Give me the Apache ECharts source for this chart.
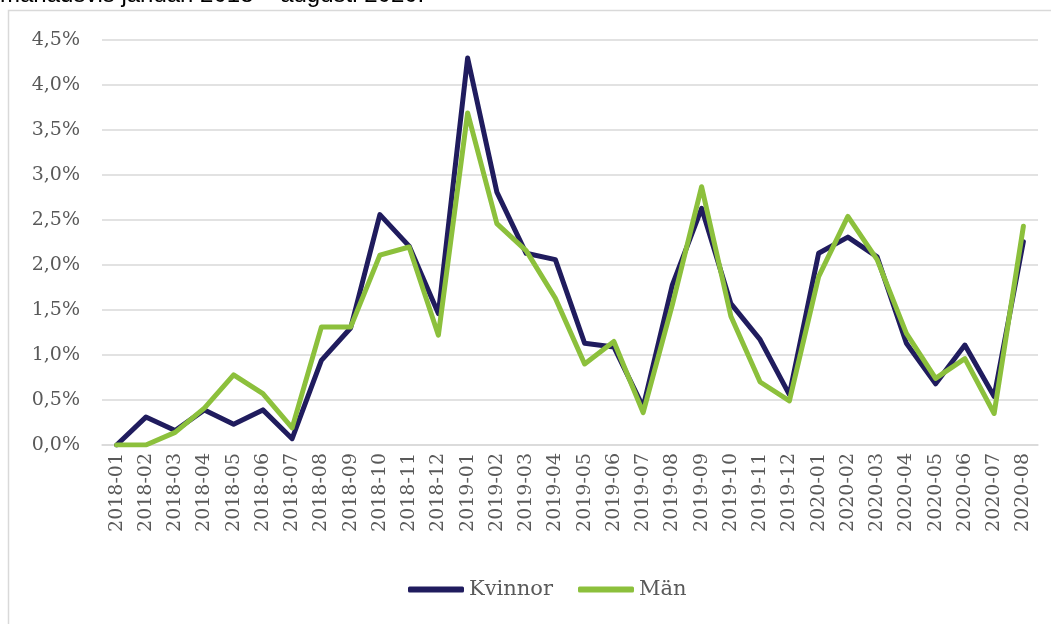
<!DOCTYPE html>
<html>
<head>
<meta charset="utf-8">
<script src="https://cdn.jsdelivr.net/npm/echarts@6/dist/echarts.min.js"></script>
<style>
  html, body { margin: 0; padding: 0; background: #fff; }
  #chart { width: 1051px; height: 624px; }
</style>
</head>
<body>
<div id="chart"></div>
<script>
// månader
var manader = [
  "2018-01","2018-02","2018-03","2018-04","2018-05","2018-06","2018-07","2018-08",
  "2018-09","2018-10","2018-11","2018-12","2019-01","2019-02","2019-03","2019-04",
  "2019-05","2019-06","2019-07","2019-08","2019-09","2019-10","2019-11","2019-12",
  "2020-01","2020-02","2020-03","2020-04","2020-05","2020-06","2020-07","2020-08"
];
// andel i procent
var kvinnor = [
  0.00, 0.31, 0.16, 0.39, 0.23, 0.39, 0.07, 0.94,
  1.30, 2.56, 2.21, 1.46, 4.30, 2.81, 2.13, 2.06,
  1.13, 1.09, 0.42, 1.78, 2.63, 1.57, 1.17, 0.56,
  2.13, 2.31, 2.09, 1.13, 0.68, 1.11, 0.54, 2.26
];
var man = [
  0.00, 0.00, 0.14, 0.41, 0.78, 0.57, 0.19, 1.31,
  1.31, 2.11, 2.20, 1.22, 3.69, 2.46, 2.16, 1.63,
  0.90, 1.15, 0.36, 1.56, 2.87, 1.43, 0.70, 0.49,
  1.87, 2.54, 2.06, 1.24, 0.74, 0.96, 0.35, 2.43
];

var serif = "'DejaVu Serif', serif";
var gra = "#595959";

echarts.init(document.querySelector("#chart")).setOption({
  animation: false,
  graphic: [
    {
      type: "rect",
      shape: { x: 8.5, y: 10.5, width: 1100, height: 700 },
      style: { fill: "none", stroke: "#d9d9d9", lineWidth: 1.5 },
      silent: true
    },
    {
      type: "text",
      left: 0,
      top: -17,
      style: {
        text: "månadsvis januari 2018 – augusti 2020.",
        font: "24px 'Liberation Sans', Arial, sans-serif",
        fill: "#000"
      }
    }
  ],
  legend: {
    bottom: 19,
    left: 403,
    icon: "roundRect",
    itemWidth: 56,
    itemHeight: 6,
    itemGap: 25,
    textStyle: { fontFamily: serif, fontSize: 21, color: gra }
  },
  grid: { left: 102, right: 13, top: 40, bottom: 179 },
  xAxis: {
    type: "category",
    data: manader,
    boundaryGap: true,
    axisTick: { show: false },
    axisLine: { lineStyle: { color: "#d9d9d9", width: 1.5 } },
    axisLabel: { rotate: 90, margin: 8, fontFamily: serif, fontSize: 19, color: gra, interval: 0 }
  },
  yAxis: {
    type: "value",
    min: 0,
    max: 4.5,
    interval: 0.5,
    axisLine: { show: false },
    axisTick: { show: false },
    splitLine: { lineStyle: { color: "#d9d9d9", width: 1.5 } },
    axisLabel: {
      margin: 22,
      fontFamily: serif,
      fontSize: 19,
      color: gra,
      formatter: function (v) { return v.toFixed(1).replace(".", ",") + "%"; }
    }
  },
  series: [
    {
      name: "Kvinnor",
      type: "line",
      data: kvinnor,
      symbol: "none",
      color: "#201c5e",
      lineStyle: { width: 5, cap: "round", join: "round" }
    },
    {
      name: "Män",
      type: "line",
      data: man,
      symbol: "none",
      color: "#8cc03c",
      lineStyle: { width: 5, cap: "round", join: "round" }
    }
  ]
});
</script>
</body>
</html>
